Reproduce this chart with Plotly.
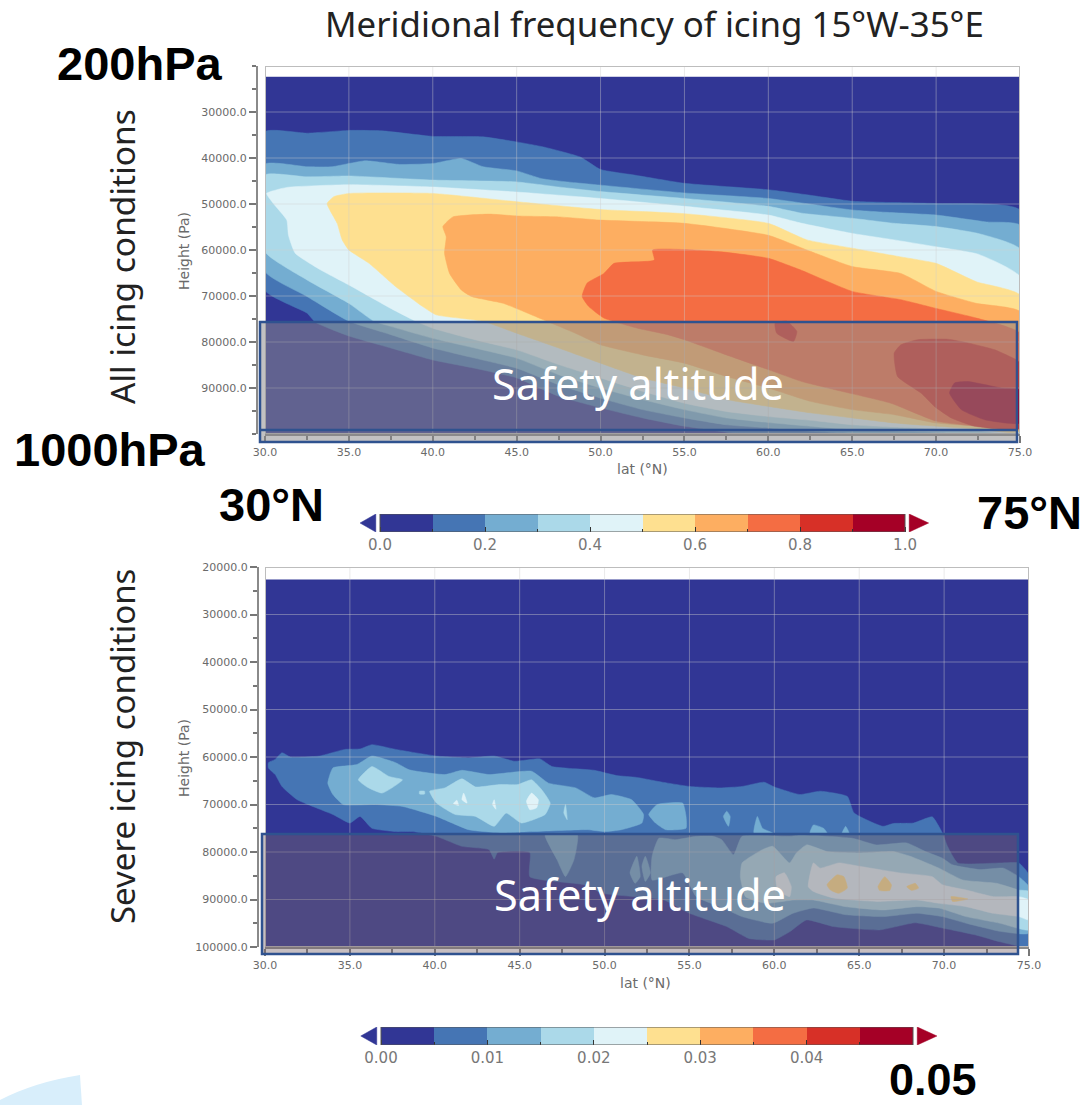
import plotly.graph_objects as go

W, H = 1084, 1105

LEVEL_COLORS = ["#313695", "#4575b4", "#74add1", "#abd9e9", "#e0f3f8",
                "#fee090", "#fdae61", "#f46d43", "#d73027", "#a50026"]

LAT_TICKS = [30, 35, 40, 45, 50, 55, 60, 65, 70, 75]
ALL_PA_TICKS = [30000, 40000, 50000, 60000, 70000, 80000, 90000]
SEV_PA_TICKS = [20000, 30000, 40000, 50000, 60000, 70000, 80000, 90000, 100000]
ALL_CBAR_EDGES = [0, .1, .2, .3, .4, .5, .6, .7, .8, .9, 1.0]
ALL_CBAR_TICKS = [0, .2, .4, .6, .8, 1.0]
SEV_CBAR_EDGES = [0, .005, .01, .015, .02, .025, .03, .035, .04, .045, .05]
SEV_CBAR_TICKS = [0, .01, .02, .03, .04]

# ---------- frequency contours, all icing (lat degN, pressure Pa) ----------
ALL_00 = [(30, 22400), (75, 22400), (75, 100000), (30, 100000)]
ALL_10 = [(30,34300),(32.5,34600),(35,34000),(37,34100),(40,35300),(43,35400),(45,36500),(46.6,37600),(48.8,39800),
          (50,42500),(52,43700),(55,45500),(60,46900),(62.5,48100),(65,49400),(67.5,49700),(70,49900),(75,51300),
          (75,100000),(61,100000),(58,99800),(55,98300),(52.5,96500),(50,94300),(47.5,91800),(45,87800),(42.5,85700),
          (40,83900),(37.5,81300),(35,78700),(33,75700),(32.5,73700),(30,68800)]
ALL_20 = [(30,41350),(32.5,41900),(34,41900),(35,41200),(36,40600),(38,41400),(40,41200),(41.7,40100),(43,41900),
          (45,42800),(46.5,44500),(48,45200),(50,45900),(55,47600),(60,48800),(65,51300),(67,51800),(70,52400),
          (73,53900),(75,54600),(75,100000),(65,99800),(62.5,99400),(60,98700),(57.5,98000),(55,96500),(52.5,94700),
          (50,92200),(47.5,89300),(45,85700),(42.5,83500),(40,81300),(37.5,78400),(35,75500),(32.5,70100),(30,64700)]
ALL_30 = [(30,43700),(32.5,44100),(35,43900),(40,44800),(45,45200),(47.5,46300),(50,47300),(55,48800),(60,50500),
          (62,52000),(65,53100),(67.5,54200),(70,54900),(72.5,56400),(75,59800),(75,99900),(70,99600),(65,99000),
          (62.5,98300),(60,97500),(57.5,96500),(55,94700),(52.5,92500),(50,90000),(47.5,87100),(45,83500),(42.5,81300),
          (40,79200),(37.5,76600),(36.5,75500),(35,71600),(32.5,66500),(30,60400)]
ALL_40 = [(30.1,47700),(31.3,46400),(35,45800),(40,46300),(45,47400),(50,48800),(55,50500),(60,52400),(62,54200),
          (65,56400),(67.5,57800),(70,59300),(72.5,60900),(75,65800),(75,99600),(72.5,99300),(70,98900),(67.5,98500),
          (65,98000),(62.5,97000),(60,96200),(57.5,95100),(55,93300),(52.5,90700),(50,87800),(47.5,84900),(45,81700),
          (42.5,79500),(40,77000),(39,75500),(37.5,72700),(35,67600),(33.3,64300),(31.8,60700),(31.4,56800),(31.3,53500),
          (30.5,49900)]
ALL_50 = [(33.7,49900),(34.1,48400),(35,47700),(40,47700),(45,49500),(50,51200),(55,52100),(60,54200),(62.3,57800),
          (65,59600),(67.9,61500),(70,62900),(72.4,66900),(75,69800),(75,99400),(72.5,98900),(70,98300),(67.5,97600),
          (65,96500),(62.5,95400),(60,94000),(57.5,92500),(55,90000),(52.5,87800),(50,84600),(47.5,81300),(45,78100),
          (43,75500),(40.2,74100),(39.4,72300),(37.8,68000),(36.2,62900),(35,60000),(34.6,57800),(34.3,54200)]
ALL_60 = [(40.6,54900),(41.2,52800),(43.4,52200),(45,52600),(47.5,52800),(50,53500),(55,54200),(60,56800),(62.3,60000),
          (65,63600),(67.9,65100),(70,69000),(72.4,71600),(75,73400),(75,99000),(72.5,98300),(70,97600),(67.5,95800),
          (65,94700),(62.5,92900),(60,90000),(57.5,87500),(55,84600),(52.5,82800),(50,80600),(48.5,78100),(46.8,75500),
          (44.2,71600),(42.3,70100),(41.7,68700),(41,65100),(40.7,60700),(40.8,57100)]
ALL_70 = [(48.9,70100),(49.2,67200),(50.2,65100),(50.8,62900),(53.2,62200),(53.1,60000),(55,59900),(57.2,60400),
          (60,61800),(61.9,64300),(65,69000),(67.9,70800),(70,72700),(72.4,74800),(75,78100),(75,98700),(72.5,98300),
          (70,97200),(67.3,93300),(64,90400),(62,88600),(60,86000),(57.5,82800),(55,79500),(54,78400),(52.2,77000),
          (50.2,74800),(49.3,72300)]
ALL_80_A = [(60.4,75900),(61.1,75500),(61.7,77700),(61.5,79900),(60.5,78100)]
ALL_80_B = [(67.5,82400),(67.9,80600),(68.9,79500),(70.7,79400),(71.9,80200),(73.5,81700),(74.8,83900),(75,84600),
            (75,98700),(72.3,98300),(70.9,96500),(69.9,94000),(69.1,91100),(67.7,87500)]
ALL_90 = [(70.8,91100),(71.1,88900),(71.9,88600),(73.9,90000),(75,90400),(75,97600),(72.9,96900),(71.5,94700)]
ALL_REGIONS = [(0, ALL_00), (1, ALL_10), (2, ALL_20), (3, ALL_30), (4, ALL_40), (5, ALL_50), (6, ALL_60),
               (7, ALL_70), (8, ALL_80_A), (8, ALL_80_B), (9, ALL_90)]

# ---------- frequency contours, severe icing (lat degN, pressure Pa) ----------
SEV_00 = [(30, 22700), (75, 22700), (75, 100000), (30, 100000)]
SEV_05 = [(30.2,61200),(30.6,60500),(31,59100),(31.5,60000),(33.2,59800),(34.7,58400),(35.6,58300),(36.3,57400),
          (37.7,58400),(40.1,59800),(42,60200),(43.5,59800),(44.7,60900),(46.2,60400),(46.9,62000),(49.4,62800),
          (50.7,63900),(51.9,64300),(53.4,65300),(55,66200),(56.8,66500),(58.1,66200),(59.4,65300),(60,66300),
          (61.5,67900),(62.7,67200),(64.3,68300),(64.7,71800),(66.4,74600),(67,74000),(68.2,73900),(69.3,72600),
          (69.9,76000),(70.2,78800),(70.8,82300),(73.3,82300),(74.4,82300),(75,84800),(75,99900),(73.3,98900),
          (71.9,97500),(69.9,96000),(68.3,94900),(66.2,96400),(63.5,95700),(61.9,94300),(60.9,96800),(60,98500),
          (58.5,98200),(57.2,95700),(55,92900),(53.5,90100),(49.9,88700),(48.8,86900),(45.6,85200),(45.6,80100),
          (43.7,80100),(43.5,81500),(43.2,79500),(41.6,78800),(40.1,76700),(38.7,75700),(37.7,75700),(36.3,75000),
          (35.6,72500),(35,73900),(34,72100),(31.9,69000),(31,66200),(30.6,63700),(30.2,62300)]
SEV_10_A = [(33.7,65500),(34,62300),(35.4,61600),(36.3,59800),(37.7,61200),(38.5,62700),(40.6,63700),(41.6,62800),
            (43.2,63700),(45.7,63000),(46.7,65500),(48.3,66500),(49.4,68600),(50.4,67900),(51.6,69000),(52.3,72100),
            (52.2,73900),(51,75300),(50,75700),(49,75300),(45.7,75700),(44,76000),(42,75300),(40.1,72500),(38.1,70400),
            (36.5,70000),(34.6,70000),(34,67900)]
SEV_10_B = [(52.6,72100),(53.1,70000),(54.6,69700),(54.8,72500),(54.8,75000),(53.6,75300),(53,73900)]
SEV_10_C = [(57,72500),(57.2,71400),(57.4,72500),(57.3,74600)]
SEV_10_D = [(58.8,76000),(59,72500),(59.3,75000),(59.9,76000)]
SEV_10_E = [(62.1,76000),(62.3,74300),(62.9,75000),(63.1,76000)]
SEV_10_F = [(64,76000),(64.2,74600),(64.4,76000)]
SEV_10_G = [(46.5,76400),(48.4,76400),(48.2,81600),(47.7,85200),(47.2,81600)]
SEV_10_H = [(51.5,84400),(51.9,80900),(52.1,85200),(51.8,86600)]
SEV_10_I = [(52.2,83000),(52.4,80900),(52.7,84400),(52.4,86200)]
SEV_10_J = [(52.8,80900),(53.2,77100),(54.2,77400),(55.4,76700),(56.4,76700),(56.9,77400),(57.6,80600),(58.1,76700),
            (60.9,76700),(61.5,76400),(64.6,77100),(66,78500),(67.8,78100),(68.9,79900),(69.9,81300),(70.5,82700),
            (72.1,83700),(73.5,83400),(74.4,85200),(75,87300),(75,97100),(73.3,96700),(71.3,95000),(69.9,93600),
            (68.4,92900),(66.4,93600),(64.2,93200),(62.3,91800),(61.1,92900),(59.9,95000),(58.1,93600),(57,91800),
            (55.4,89400),(54.6,84400),(52.8,85900)]
SEV_15_A = [(35.5,64800),(36.3,62000),(37.3,64100),(38.1,64800),(36.9,67600),(36,66300)]
SEV_15_B = [(39.7,67200),(40.6,66500),(41.6,64600),(42.4,66300),(43.8,65800),(44.9,65800),(45.7,64800),(46.3,66900),
            (46.8,69700),(46.5,72100),(45.1,73900),(44.2,71800),(43.5,74600),(42.4,72500),(41.2,72100),(40.1,69700)]
SEV_15_C = [(39.1,67200),(39.4,67200),(39.4,67800),(39.1,67800)]
SEV_15_D = [(47.6,71800),(47.7,70000),(47.8,73200)]
SEV_15_E = [(58.1,82300),(59.3,79500),(59.9,78800),(60.9,82300),(61.3,80200),(61.9,78500),(63.1,79900),(65,80200),
            (67,79900),(68,80900),(69.7,83400),(71.1,85900),(73.1,86600),(74.4,88000),(75,88300),(75,96400),(73.3,95000),
            (71.3,93600),(69.7,91800),(68.4,91500),(66.4,92200),(64.2,91500),(62.3,90100),(61.1,90100),(59.5,90800),
            (58.3,89400),(58,85200)]
SEV_20_A = [(62,87300),(62.3,82300),(62.7,83400),(63.8,82300),(65,83000),(67.4,84400),(69.3,85200),(69.9,86900),
            (71.3,88000),(72.9,89400),(74.4,89400),(75,90100),(75,94300),(74.4,93600),(72.9,92900),(71.3,91500),
            (69.7,90800),(68.4,90100),(66,90400),(63.5,89700),(62.3,88300)]
SEV_20_B = [(60.1,85200),(60.6,84400),(61,87300),(60.9,89400),(60.2,88000)]
SEV_20_C = [(45.4,69300),(45.7,67600),(46.1,69000),(46,70700),(45.6,71100)]
SEV_20_D = [(41.6,69000),(41.7,67600),(41.9,69700)]
SEV_20_E = [(43.4,70000),(43.5,69000),(43.6,71000)]
SEV_20_F = [(41.1,69800),(41.3,69100),(41.4,70200)]
SEV_25_A = [(63.1,86900),(63.7,84800),(64.1,85200),(64.3,87600),(63.8,88700),(63.3,88000)]
SEV_25_B = [(66.1,87300),(66.5,85200),(66.9,86900),(66.8,88100),(66.2,88100)]
SEV_25_C = [(67.8,87300),(68.3,86600),(68.5,87600),(68.1,88100)]
SEV_25_D = [(70.4,89400),(71.4,89900),(70.5,90400)]
SEV_REGIONS = [(0, SEV_00), (1, SEV_05), (2, SEV_10_A), (2, SEV_10_B), (2, SEV_10_C), (2, SEV_10_D), (2, SEV_10_E),
               (2, SEV_10_F), (2, SEV_10_G), (2, SEV_10_H), (2, SEV_10_I), (2, SEV_10_J), (3, SEV_15_A), (3, SEV_15_B),
               (3, SEV_15_C), (3, SEV_15_D), (3, SEV_15_E), (4, SEV_20_A), (4, SEV_20_B), (4, SEV_20_C), (4, SEV_20_D),
               (4, SEV_20_E), (4, SEV_20_F), (5, SEV_25_A), (5, SEV_25_B), (5, SEV_25_C), (5, SEV_25_D)]


def px(x):
    return x / W


def py(y):
    return 1 - y / H


fig = go.Figure()


def add_regions(regions, xa, ya):
    for lvl, pts in regions:
        line = dict(color=LEVEL_COLORS[lvl], width=0.5)
        if lvl > 0:
            line.update(shape="spline", smoothing=0.45)
        fig.add_trace(go.Scatter(
            x=[p[0] for p in pts] + [pts[0][0]], y=[p[1] for p in pts] + [pts[0][1]],
            xaxis=xa, yaxis=ya, mode="lines", fill="toself", fillcolor=LEVEL_COLORS[lvl],
            line=line, hoverinfo="skip", showlegend=False))


add_regions(ALL_REGIONS, "x", "y")
add_regions(SEV_REGIONS, "x2", "y2")


def add_cbar(edges, xa, ya):
    span = edges[-1]
    fig.add_trace(go.Heatmap(x=edges, y=[0, 1], z=[list(range(10))], xaxis=xa, yaxis=ya, showscale=False,
                             colorscale=[[i / 9, c] for i, c in enumerate(LEVEL_COLORS)], hoverinfo="skip", xgap=0))
    for xs, col in (([-0.008 * span, -0.008 * span, -0.038 * span], LEVEL_COLORS[0]),
                    ([1.008 * span, 1.008 * span, 1.045 * span], LEVEL_COLORS[9])):
        fig.add_trace(go.Scatter(x=xs + [xs[0]], y=[0, 1, 0.5, 0], xaxis=xa, yaxis=ya, mode="lines", fill="toself",
                                 fillcolor=col, line=dict(color=col, width=0.5), hoverinfo="skip", showlegend=False))


add_cbar(ALL_CBAR_EDGES, "x3", "y3")
add_cbar(SEV_CBAR_EDGES, "x4", "y4")

TICK = dict(family="DejaVu Sans", size=11, color="#6a6a6a")
AX = dict(showgrid=False, zeroline=False, showline=True, linecolor="#8a8a8a", linewidth=2, ticks="outside",
          ticklen=7, tickcolor="#777777", tickwidth=1.5, tickfont=TICK, layer="above traces")

layout = dict(
    width=W, height=H, autosize=False, margin=dict(l=0, r=0, t=0, b=0, autoexpand=False),
    paper_bgcolor="white", plot_bgcolor="white", showlegend=False,
    xaxis=dict(AX, domain=[px(265), px(1020)], range=[30, 75], tickvals=LAT_TICKS, tickformat=".1f", anchor="y",
               minor=dict(ticks="outside", ticklen=4, tickcolor="#777777", tickvals=[32.5 + 5 * i for i in range(9)])),
    yaxis=dict(AX, domain=[py(434), py(66)], range=[100000, 20000], tickvals=ALL_PA_TICKS, tickformat=".1f",
               anchor="free", position=px(257),
               minor=dict(ticks="outside", ticklen=4, tickcolor="#777777", tickvals=[20000 + 5000 * i for i in range(17)])),
    xaxis2=dict(AX, domain=[px(265), px(1029)], range=[30, 75], tickvals=LAT_TICKS, tickformat=".1f", anchor="y2",
                minor=dict(ticks="outside", ticklen=4, tickcolor="#777777", tickvals=[32.5 + 5 * i for i in range(9)])),
    yaxis2=dict(AX, domain=[py(947), py(567)], range=[100000, 20000], tickvals=SEV_PA_TICKS, tickformat=".1f",
                anchor="free", position=px(258),
                minor=dict(ticks="outside", ticklen=4, tickcolor="#777777", tickvals=[25000 + 10000 * i for i in range(8)])),
    xaxis3=dict(domain=[px(358), px(931)], range=[-0.0419, 1.0495], anchor="y3", showgrid=False, zeroline=False,
                showline=False, ticks="inside", ticklen=5, tickcolor="#333333", tickvals=ALL_CBAR_TICKS,
                tickformat=".1f", tickfont=dict(family="DejaVu Sans", size=15, color="#777777"), ticklabelstandoff=2,
                minor=dict(ticks="inside", ticklen=3, tickcolor="#333333", tickvals=[.1, .3, .5, .7, .9])),
    yaxis3=dict(domain=[py(532), py(514)], range=[0, 1], visible=False),
    xaxis4=dict(domain=[px(356), px(938)], range=[-0.047 * .05, 1.047 * .05], anchor="y4", showgrid=False, zeroline=False,
                showline=False, ticks="inside", ticklen=5, tickcolor="#333333", tickvals=SEV_CBAR_TICKS,
                tickformat=".2f", tickfont=dict(family="DejaVu Sans", size=15, color="#777777"), ticklabelstandoff=2,
                minor=dict(ticks="inside", ticklen=3, tickcolor="#333333", tickvals=[.005, .015, .025, .035, .045])),
    yaxis4=dict(domain=[py(1045), py(1027)], range=[0, 1], visible=False),
)

shapes = []
GRID = dict(color="rgba(205,205,205,0.42)", width=1)
FRAME = dict(color="#bdbdbd", width=2)
for xa, ya, pas in (("x", "y", ALL_PA_TICKS), ("x2", "y2", SEV_PA_TICKS)):
    for lat in LAT_TICKS[1:-1]:
        shapes.append(dict(type="line", xref=xa, yref=ya, x0=lat, x1=lat, y0=20000, y1=100000, line=GRID))
    for pa in pas:
        shapes.append(dict(type="line", xref=xa, yref=ya, x0=30, x1=75, y0=pa, y1=pa, line=GRID))
    shapes.append(dict(type="rect", xref=xa, yref=ya, x0=30, x1=75, y0=20000, y1=100000, line=FRAME))

BORDER = dict(color="#2f528f", width=2.5)
# safety altitude boxes
shapes.append(dict(type="rect", xref="paper", yref="paper", x0=px(260), x1=px(1017), y0=py(442), y1=py(322),
                   fillcolor="rgba(140,138,140,0.53)", line=BORDER))
shapes.append(dict(type="line", xref="paper", yref="paper", x0=px(260), x1=px(1017), y0=py(430), y1=py(430), line=BORDER))
shapes.append(dict(type="rect", xref="paper", yref="paper", x0=px(262), x1=px(1018), y0=py(954), y1=py(834),
                   fillcolor="rgba(118,101,108,0.42)", line=BORDER))
# colour bar outlines
for xa, ya, top in (("x3", "y3", 1.0), ("x4", "y4", 0.05)):
    shapes.append(dict(type="rect", xref=xa, yref=ya, x0=0, x1=top, y0=0, y1=1, line=dict(color="#555555", width=1)))
# faint logo fragment, bottom-left corner
lx = lambda v: f"{px(v):.4f}"
ly = lambda v: f"{py(v):.4f}"
shapes.append(dict(type="path", xref="paper", yref="paper", line=dict(width=0), fillcolor="#d8eefb", layer="below",
                   path=f"M {lx(0)} {ly(1105)} L {lx(0)} {ly(1100)} Q {lx(35)} {ly(1082)} {lx(80)} {ly(1075)} "
                        f"L {lx(82)} {ly(1105)} Z"))
layout["shapes"] = shapes


def ann(text, x, y, size, family="Liberation Sans", bold=False, color="black", angle=0, anchor="center"):
    return dict(text=f"<b>{text}</b>" if bold else text, x=px(x), y=py(y), xref="paper", yref="paper",
                xanchor=anchor, yanchor="middle", showarrow=False, textangle=angle,
                font=dict(family=family, size=size, color=color))


BODY = "Noto Sans"
layout["annotations"] = [
    ann("Meridional frequency of icing 15°W-35°E", 654, 23, 34.8, BODY, color="#222222"),
    ann("200hPa", 55, 63, 47, bold=True, anchor="left"),
    ann("1000hPa", 12, 449, 47, bold=True, anchor="left"),
    ann("30°N", 217, 505, 47, bold=True, anchor="left"),
    ann("75°N", 975, 512, 47, bold=True, anchor="left"),
    ann("0.05", 887, 1079, 45, bold=True, anchor="left"),
    ann("All icing conditions", 122, 257, 33.5, BODY, color="#222222", angle=-90),
    ann("Severe icing conditions", 122, 747, 33, BODY, color="#222222", angle=-90),
    ann("Safety altitude", 638, 383, 43.3, BODY, color="white"),
    ann("Safety altitude", 640, 894, 43.3, BODY, color="white"),
    ann("Height (Pa)", 184, 251, 14, "DejaVu Sans", color="#6a6a6a", angle=-90),
    ann("Height (Pa)", 184, 758, 14, "DejaVu Sans", color="#6a6a6a", angle=-90),
    ann("lat (°N)", 642, 469, 14, "DejaVu Sans", color="#6a6a6a"),
    ann("lat (°N)", 645, 983, 14, "DejaVu Sans", color="#6a6a6a"),
]
fig.update_layout(**layout)
fig.write_html("out.html", config={"displayModeBar": False}, post_script="document.body.style.margin='0';")
